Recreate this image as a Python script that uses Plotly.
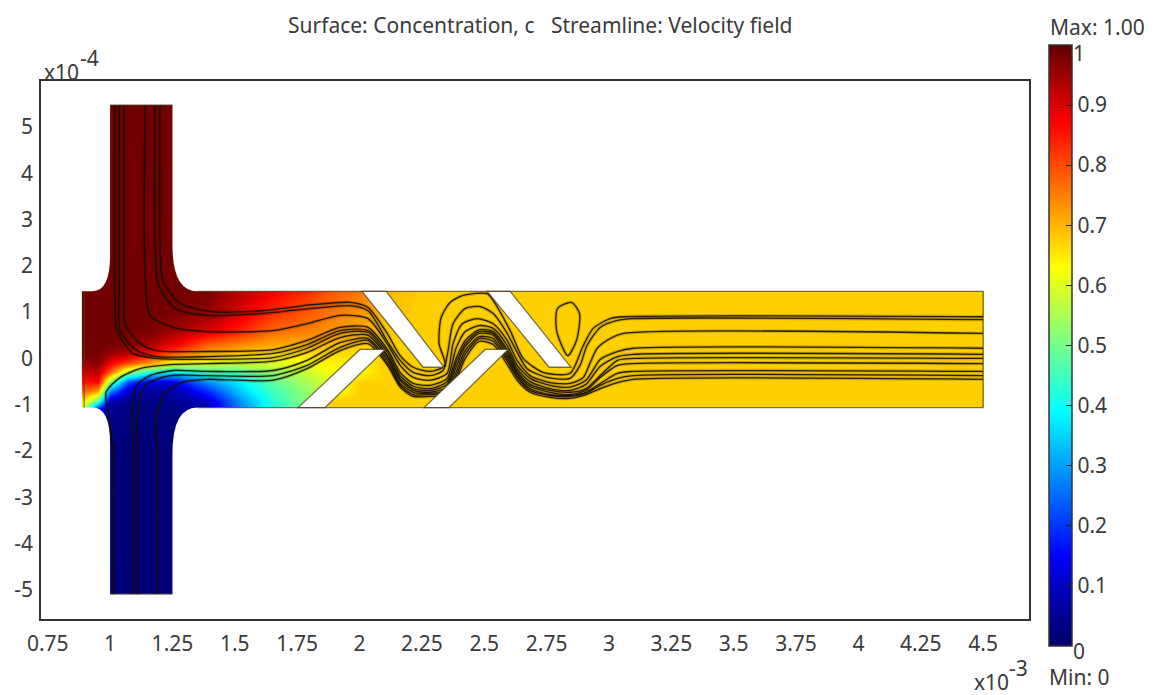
import plotly.graph_objects as go

# ---- concentration field (x in 1e-3, y in 1e-4) ----
FIELD_X = [0.89, 0.896, 0.95, 1.0, 1.07, 1.15, 1.25, 1.39, 1.52, 1.65, 1.79, 1.88, 2.0, 2.1, 2.25, 4.5, 4.501]
FIELD_Y = [-5.092, -5.09, -1.9, -1.06, -0.9, -0.7, -0.5, -0.3, -0.1, 0.1, 0.3, 0.6, 1.0, 1.45, 2.0, 5.47, 5.472]
C_IN = 0.985
C_LOW = 0.02
F = 0.674
FIELD_Z = [
    [C_LOW] * 17,
    [C_LOW] * 17,
    [C_LOW] * 17,
    [.58, .58, .20, .05, .03, .03, .03, .08, .27, .42, .50, F, F, F, F, F, F],
    [.66, .66, .50, .10, .05, .04, .05, .11, .29, .43, .52, F, F, F, F, F, F],
    [.77, .77, .72, .28, .10, .06, .07, .19, .34, .45, .53, .60, F, F, F, F, F],
    [.85, .85, .87, .52, .22, .13, .13, .28, .38, .48, .55, .60, F, F, F, F, F],
    [.91, .91, .93, .78, .55, .42, .38, .45, .47, .53, .58, .62, .63, F, F, F, F],
    [.95, .95, .97, .88, .80, .73, .62, .60, .58, .60, .62, .64, .64, F, F, F, F],
    [.98, .98, .985, .95, .92, .86, .78, .70, .67, .65, .66, .66, .66, .67, F, F, F],
    [C_IN, C_IN, C_IN, .98, .97, .94, .88, .78, .74, .71, .70, .69, .68, .67, F, F, F],
    [C_IN, C_IN, C_IN, C_IN, .98, .98, .95, .90, .84, .77, .75, .73, .71, .68, F, F, F],
    [C_IN, C_IN, C_IN, C_IN, C_IN, C_IN, .98, .96, .90, .83, .79, .76, .73, .69, F, F, F],
    [C_IN, C_IN, C_IN, C_IN, C_IN, C_IN, C_IN, .98, .93, .88, .83, .79, .76, .70, F, F, F],
    [C_IN] * 17,
    [C_IN] * 17,
    [C_IN] * 17,
]

# ---- streamlines ----
WAVE_X = [1.389, 1.654, 1.79, 1.922, 2.034, 2.115, 2.163, 2.215, 2.283, 2.351, 2.387, 2.424,
          2.48, 2.536, 2.592, 2.632, 2.684, 2.764, 2.844, 2.908, 2.965, 3.034, 3.098, 4.5]
L1_X = [1.2, 1.2, 1.212, 1.281, 1.409, 1.609, 1.81, 1.962, 2.034, 2.111, 2.163, 2.215, 2.283, 2.343, 2.319,
        2.327, 2.363, 2.415, 2.512, 2.536, 2.604, 2.656, 2.736, 2.844, 2.897, 2.937, 3.005, 3.058, 4.5]
L1_Y = [5.47, 2.54, 1.68, 1.19, 1.01, 1.03, 1.16, 1.21, 1.10, .54, .06, -.19, -.28, -.15, .32,
        .88, 1.21, 1.36, 1.40, 1.25, .60, 0, -.30, -.32, .28, .65, .86, .90, .90]
L2_X = [1.18, 1.18, 1.192, 1.26, 1.389, 1.609, 1.81, 1.962, 2.034, 2.115, 2.163, 2.215, 2.283, 2.335, 2.355,
        2.375, 2.424, 2.484, 2.536, 2.592, 2.632, 2.672, 2.752, 2.844, 2.884, 2.912, 2.965, 3.034, 3.098, 4.5]
L2_Y = [5.47, 2.54, 1.62, 1.08, .93, .97, 1.08, 1.14, 1.03, .34, -.04, -.30, -.37, -.26, .17,
        .75, 1.08, 1.12, .97, .54, .13, -.22, -.41, -.43, -.15, .28, .67, .82, .86, .84]
L3_X = [1.14, 1.14, 1.16, 1.253, 1.389, 1.654, 1.79, 1.922, 2.034, 2.115, 2.163, 2.215, 2.283, 2.351, 2.375,
        2.412, 2.472, 2.536, 2.592, 2.632, 2.684, 2.764, 2.844, 2.897, 2.925, 2.953, 3.005, 3.058, 4.5]
L3_Y = [5.47, 1.90, .93, .67, .58, .60, .75, .93, .86, .28, -.15, -.41, -.47, -.32, .32,
        .75, .86, .75, .39, -.04, -.37, -.52, -.54, -.41, -.09, .22, .43, .54, .54]
L4_X0 = [1.056, 1.056, 1.06, 1.12, 1.188]
L4_Y0 = [5.47, 1.47, .75, .32, .17]
L4_Y = [.15, .19, .39, .67, .67, .17, -.30, -.54, -.58, -.43, .22, .58, .71, .65, .28, -.15, -.43, -.58, -.62, -.47, -.02, .15, .22, .22]
L5_X0 = [1.036, 1.036, 1.04, 1.108, 1.188]
L5_Y0 = [5.47, 1.47, .60, .17, .04]
L5_Y = [.04, .11, .30, .60, .60, .11, -.37, -.60, -.65, -.50, 0, .39, .62, .58, .19, -.22, -.50, -.65, -.69, -.56, -.17, .04, .09, .09]
L6_X0 = [1.02, 1.02, 1.028, 1.092, 1.188]
L6_Y0 = [5.47, 1.47, .60, .11, 0]
L6_Y = [-.02, .02, .22, .54, .56, .04, -.43, -.65, -.69, -.56, -.09, .32, .58, .54, .13, -.28, -.56, -.69, -.73, -.65, -.37, -.04, 0, 0]
L7_X0 = [1.012, 1.012, .992, .984, 1.04, 1.12, 1.253]
L7_Y0 = [-5.09, -1.98, -1.23, -.73, -.41, -.22, -.13]
L7_Y = [-.11, -.06, .13, .45, .50, 0, -.47, -.69, -.73, -.62, -.19, .26, .54, .50, .06, -.32, -.60, -.73, -.78, -.69, -.41, -.15, -.11, -.11]
L8_X0 = [1.092, 1.092, 1.088, 1.108, 1.16, 1.253]
L8_Y0 = [-5.09, -1.98, -1.12, -.58, -.37, -.26]
L8_Y = [-.28, -.26, -.04, .34, .43, -.06, -.54, -.73, -.75, -.69, -.30, .17, .47, .43, 0, -.37, -.65, -.78, -.80, -.73, -.54, -.32, -.28, -.28]
L9_X0 = [1.112, 1.112, 1.112, 1.14, 1.24]
L9_Y0 = [-5.09, -1.98, -1.12, -.58, -.37]
L9_Y = [-.37, -.37, -.15, .24, .39, -.13, -.58, -.78, -.78, -.73, -.39, .09, .43, .37, -.06, -.41, -.69, -.80, -.82, -.75, -.58, -.43, -.37, -.37]
L10_X0 = [1.188, 1.188, 1.184, 1.22, 1.30]
L10_Y0 = [-5.09, -1.98, -1.34, -.73, -.50]
L10_Y = [-.45, -.47, -.22, .17, .32, -.17, -.62, -.82, -.82, -.78, -.47, 0, .37, .30, -.13, -.47, -.73, -.84, -.86, -.78, -.65, -.52, -.45, -.45]
LOOP_X = [2.835, 2.79, 2.794, 2.85, 2.882, 2.87, 2.835]
LOOP_Y = [.06, .60, 1.08, 1.21, .97, .39, .06]

# ---- axis labels ----
X_TICKS = [.75, 1, 1.25, 1.5, 1.75, 2, 2.25, 2.5, 2.75, 3, 3.25, 3.5, 3.75, 4, 4.25, 4.5]
X_LABELS = ["0.75", "1", "1.25", "1.5", "1.75", "2", "2.25", "2.5", "2.75", "3", "3.25", "3.5", "3.75", "4", "4.25", "4.5"]
Y_TICKS = [-5, -4, -3, -2, -1, 0, 1, 2, 3, 4, 5]
Y_LABELS = ["-5", "-4", "-3", "-2", "-1", "0", "1", "2", "3", "4", "5"]
CBAR_TICKS = [0, .1, .2, .3, .4, .5, .6, .7, .8, .9, 1]
CBAR_LABELS = ["", "0.1", "0.2", "0.3", "0.4", "0.5", "0.6", "0.7", "0.8", "0.9", ""]
TITLE = "Surface: Concentration, c   Streamline: Velocity field"

COLORSCALE = [[0, "#000068"], [.1, "#0000c0"], [.15, "#0000ff"], [.39, "#00ffff"],
              [.63, "#ffff00"], [.87, "#ff0000"], [1, "#600000"]]
FONT = "Noto Sans"
TXT = "#3a3a3a"

fig = go.Figure()
fig.add_trace(go.Heatmap(
    x=FIELD_X, y=FIELD_Y, z=FIELD_Z, zmin=0, zmax=1, zsmooth="best", colorscale=COLORSCALE,
    hoverinfo="skip",
    colorbar=dict(thickness=23, thicknessmode="pixels", len=601, lenmode="pixels",
                  x=1.0202, xanchor="left", xpad=0, y=-0.05, yanchor="bottom", ypad=0,
                  tickvals=CBAR_TICKS, ticktext=CBAR_LABELS, ticks="inside", ticklen=6,
                  tickcolor="#222", tickwidth=1, outlinecolor="#333", outlinewidth=1.5,
                  tickfont=dict(family=FONT, size=21, color=TXT))))

lines = [(L1_X, L1_Y), (L2_X, L2_Y), (L3_X, L3_Y),
         (L4_X0 + WAVE_X, L4_Y0 + L4_Y), (L5_X0 + WAVE_X, L5_Y0 + L5_Y), (L6_X0 + WAVE_X, L6_Y0 + L6_Y),
         (L7_X0 + WAVE_X, L7_Y0 + L7_Y), (L8_X0 + WAVE_X, L8_Y0 + L8_Y), (L9_X0 + WAVE_X, L9_Y0 + L9_Y),
         (L10_X0 + WAVE_X, L10_Y0 + L10_Y), (LOOP_X, LOOP_Y)]
for lx, ly in lines:
    # soft halo under each streamline, as in the blurred source picture
    fig.add_trace(go.Scatter(x=lx, y=ly, mode="lines", hoverinfo="skip", showlegend=False,
                             line=dict(color="rgba(30,20,0,0.2)", width=3.5, shape="spline", smoothing=0.7)))
    fig.add_trace(go.Scatter(x=lx, y=ly, mode="lines", hoverinfo="skip", showlegend=False,
                             line=dict(color="rgba(20,15,0,0.9)", width=1.3, shape="spline", smoothing=0.7)))

WHITE = dict(fillcolor="white", line=dict(width=0), layer="above", xref="x", yref="y", type="path")
EDGE = dict(line=dict(color="rgba(70,60,30,0.7)", width=1.3), layer="above", xref="x", yref="y", type="path")
T, B, TOP, BOT, LFT, RGT = 1.45, -1.06, 5.47, -5.09, 0.896, 4.5
masks = [
    f"M 0.86 {T} L 0.93 {T} Q 1.0 {T} 1.0 2.22 L 1.0 5.7 L 0.86 5.7 Z",
    f"M 1.25 5.7 L 1.25 2.45 Q 1.25 {T} 1.35 {T} L 4.6 {T} L 4.6 5.7 Z",
    f"M 0.86 {B} L 0.93 {B} Q 1.0 {B} 1.0 -1.85 L 1.0 -5.3 L 0.86 -5.3 Z",
    f"M 1.25 -5.3 L 1.25 -2.05 Q 1.25 {B} 1.35 {B} L 4.6 {B} L 4.6 -5.3 Z",
]
baffles = [
    f"M 2.01 {T} L 2.107 {T} L 2.339 -0.19 L 2.255 -0.19 Z",
    f"M 2.512 {T} L 2.604 {T} L 2.848 -0.19 L 2.76 -0.19 Z",
    f"M 1.754 {B} L 1.862 {B} L 2.103 0.194 L 2.002 0.194 Z",
    f"M 2.259 {B} L 2.359 {B} L 2.596 0.194 L 2.504 0.194 Z",
]
edges = [
    f"M 1.35 {T} L {RGT} {T} L {RGT} {B} L 1.35 {B}",
    f"M {LFT} {T} L {LFT} {B}",
    f"M 1.0 {TOP} L 1.25 {TOP}",
    f"M 1.0 {BOT} L 1.25 {BOT}",
]
shapes = [dict(path=p, **WHITE) for p in masks]
shapes += [dict(path=p, fillcolor="white", **EDGE) for p in baffles]
shapes += [dict(path=p, **EDGE) for p in edges]

def note(text, px, py, size=21):
    # px, py are picture pixels; the page body adds an 8 px margin
    return dict(text=text, x=(px - 41) / 988, y=(619 - py) / 538, xref="paper", yref="paper",
                showarrow=False, xanchor="center", yanchor="middle",
                font=dict(family=FONT, size=size, color=TXT))

fig.update_layout(
    width=1143, height=687, margin=dict(l=33, r=122, t=73, b=76, pad=0, autoexpand=False),
    paper_bgcolor="white", plot_bgcolor="white", showlegend=False, shapes=shapes,
    font=dict(family=FONT, color=TXT),
    annotations=[
        note(TITLE, 540, 25, 21),
        note("x10", 61, 72), note("-4", 89, 58),
        note("x10", 991, 682), note("-3", 1018, 668),
        note("Max: 1.00", 1097, 27), note("Min: 0", 1079, 677),
        note("1", 1079, 53), note("0", 1079, 651),
    ],
    xaxis=dict(range=[0.723, 4.684], tickvals=X_TICKS, ticktext=X_LABELS, showgrid=False, zeroline=False,
               showline=True, mirror=True, linecolor="#333", linewidth=1.5, ticks="",
               tickfont=dict(family=FONT, size=21, color=TXT), ticklabelstandoff=5),
    yaxis=dict(range=[-5.625, 5.99], tickvals=Y_TICKS, ticktext=Y_LABELS, showgrid=False, zeroline=False,
               showline=True, mirror=True, linecolor="#333", linewidth=1.5, ticks="",
               tickfont=dict(family=FONT, size=21, color=TXT), ticklabelstandoff=2),
)
fig.write_html("out.html")
